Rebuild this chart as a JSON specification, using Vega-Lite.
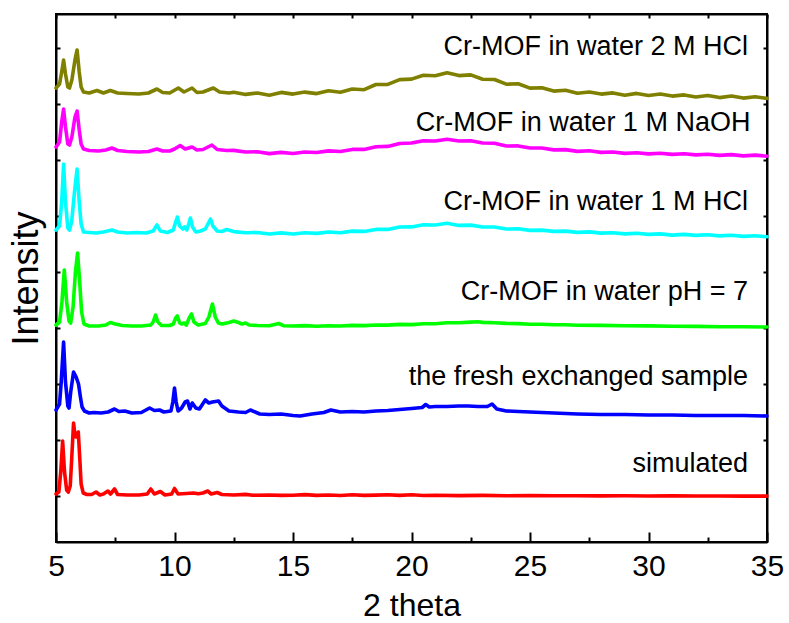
{
  "$schema": "https://vega.github.io/schema/vega-lite/v6.json",
  "width": 711,
  "height": 528,
  "autosize": {"type": "none"},
  "padding": {"left": 56, "top": 14, "right": 22, "bottom": 81},
  "background": "white",
  "config": {
    "font": "Liberation Sans",
    "view": {"stroke": "black", "strokeWidth": 2},
    "axis": {
      "grid": false,
      "domainColor": "black",
      "domainWidth": 2,
      "tickColor": "black",
      "tickWidth": 2,
      "labelColor": "black",
      "titleColor": "black",
      "titleFontWeight": "normal",
      "labelFont": "Liberation Sans",
      "titleFont": "Liberation Sans"
    }
  },
  "datasets": {
    "xrd": [
      {"sample": "simulated", "theta": 5.0, "intensity": 48},
      {"sample": "simulated", "theta": 5.12, "intensity": 50},
      {"sample": "simulated", "theta": 5.2, "intensity": 70},
      {"sample": "simulated", "theta": 5.28, "intensity": 101},
      {"sample": "simulated", "theta": 5.36, "intensity": 70},
      {"sample": "simulated", "theta": 5.45, "intensity": 52},
      {"sample": "simulated", "theta": 5.52, "intensity": 50},
      {"sample": "simulated", "theta": 5.6, "intensity": 56},
      {"sample": "simulated", "theta": 5.66, "intensity": 82},
      {"sample": "simulated", "theta": 5.74, "intensity": 119},
      {"sample": "simulated", "theta": 5.8, "intensity": 107},
      {"sample": "simulated", "theta": 5.84, "intensity": 105},
      {"sample": "simulated", "theta": 5.9, "intensity": 108},
      {"sample": "simulated", "theta": 5.94, "intensity": 110},
      {"sample": "simulated", "theta": 6.0, "intensity": 85},
      {"sample": "simulated", "theta": 6.06, "intensity": 58},
      {"sample": "simulated", "theta": 6.15, "intensity": 49},
      {"sample": "simulated", "theta": 6.3, "intensity": 47.5},
      {"sample": "simulated", "theta": 6.5, "intensity": 47.5},
      {"sample": "simulated", "theta": 6.69, "intensity": 50},
      {"sample": "simulated", "theta": 6.85, "intensity": 47},
      {"sample": "simulated", "theta": 7.0, "intensity": 48},
      {"sample": "simulated", "theta": 7.19, "intensity": 51},
      {"sample": "simulated", "theta": 7.3, "intensity": 48},
      {"sample": "simulated", "theta": 7.47, "intensity": 53},
      {"sample": "simulated", "theta": 7.6, "intensity": 47.5},
      {"sample": "simulated", "theta": 8.0, "intensity": 47},
      {"sample": "simulated", "theta": 8.5, "intensity": 47},
      {"sample": "simulated", "theta": 8.85, "intensity": 48},
      {"sample": "simulated", "theta": 9.0, "intensity": 53},
      {"sample": "simulated", "theta": 9.15, "intensity": 48},
      {"sample": "simulated", "theta": 9.4, "intensity": 50.5},
      {"sample": "simulated", "theta": 9.6, "intensity": 47},
      {"sample": "simulated", "theta": 9.88, "intensity": 48},
      {"sample": "simulated", "theta": 10.0, "intensity": 53.5},
      {"sample": "simulated", "theta": 10.15, "intensity": 48},
      {"sample": "simulated", "theta": 10.5, "intensity": 48.5},
      {"sample": "simulated", "theta": 10.8, "intensity": 49},
      {"sample": "simulated", "theta": 11.0, "intensity": 48.2},
      {"sample": "simulated", "theta": 11.2, "intensity": 49},
      {"sample": "simulated", "theta": 11.4, "intensity": 51},
      {"sample": "simulated", "theta": 11.55, "intensity": 48},
      {"sample": "simulated", "theta": 11.8, "intensity": 49.5},
      {"sample": "simulated", "theta": 12.0, "intensity": 47.5},
      {"sample": "simulated", "theta": 12.5, "intensity": 47},
      {"sample": "simulated", "theta": 13.0, "intensity": 47.6},
      {"sample": "simulated", "theta": 13.3, "intensity": 46.8},
      {"sample": "simulated", "theta": 14.0, "intensity": 47},
      {"sample": "simulated", "theta": 14.5, "intensity": 46.6},
      {"sample": "simulated", "theta": 15.0, "intensity": 46.8},
      {"sample": "simulated", "theta": 15.5, "intensity": 47.4},
      {"sample": "simulated", "theta": 16.0, "intensity": 46.6},
      {"sample": "simulated", "theta": 16.5, "intensity": 47},
      {"sample": "simulated", "theta": 17.0, "intensity": 46.5},
      {"sample": "simulated", "theta": 17.5, "intensity": 47.2},
      {"sample": "simulated", "theta": 18.0, "intensity": 46.6},
      {"sample": "simulated", "theta": 18.5, "intensity": 46.9},
      {"sample": "simulated", "theta": 19.0, "intensity": 47.3},
      {"sample": "simulated", "theta": 19.5, "intensity": 46.6},
      {"sample": "simulated", "theta": 20.0, "intensity": 47.2},
      {"sample": "simulated", "theta": 20.5, "intensity": 46.5},
      {"sample": "simulated", "theta": 21.0, "intensity": 46.8},
      {"sample": "simulated", "theta": 22.0, "intensity": 46.4},
      {"sample": "simulated", "theta": 23.0, "intensity": 46.6},
      {"sample": "simulated", "theta": 24.0, "intensity": 46.3},
      {"sample": "simulated", "theta": 25.0, "intensity": 46.4},
      {"sample": "simulated", "theta": 26.0, "intensity": 46.2},
      {"sample": "simulated", "theta": 27.0, "intensity": 46.3},
      {"sample": "simulated", "theta": 28.0, "intensity": 46.1},
      {"sample": "simulated", "theta": 29.0, "intensity": 46.2},
      {"sample": "simulated", "theta": 30.0, "intensity": 46},
      {"sample": "simulated", "theta": 31.0, "intensity": 46.1},
      {"sample": "simulated", "theta": 32.0, "intensity": 46},
      {"sample": "simulated", "theta": 33.0, "intensity": 46},
      {"sample": "simulated", "theta": 34.0, "intensity": 45.9},
      {"sample": "simulated", "theta": 35.0, "intensity": 45.9},

      {"sample": "fresh", "theta": 5.0, "intensity": 132},
      {"sample": "fresh", "theta": 5.15, "intensity": 138},
      {"sample": "fresh", "theta": 5.22, "intensity": 160},
      {"sample": "fresh", "theta": 5.32, "intensity": 200},
      {"sample": "fresh", "theta": 5.4, "intensity": 160},
      {"sample": "fresh", "theta": 5.5, "intensity": 136},
      {"sample": "fresh", "theta": 5.55, "intensity": 134},
      {"sample": "fresh", "theta": 5.62, "intensity": 150},
      {"sample": "fresh", "theta": 5.74, "intensity": 170},
      {"sample": "fresh", "theta": 5.85, "intensity": 165},
      {"sample": "fresh", "theta": 5.95, "intensity": 158},
      {"sample": "fresh", "theta": 6.03, "intensity": 145},
      {"sample": "fresh", "theta": 6.1, "intensity": 135},
      {"sample": "fresh", "theta": 6.2, "intensity": 131},
      {"sample": "fresh", "theta": 6.4, "intensity": 129},
      {"sample": "fresh", "theta": 6.6, "intensity": 129.5},
      {"sample": "fresh", "theta": 6.9, "intensity": 129},
      {"sample": "fresh", "theta": 7.2, "intensity": 130},
      {"sample": "fresh", "theta": 7.47, "intensity": 133},
      {"sample": "fresh", "theta": 7.65, "intensity": 130.5},
      {"sample": "fresh", "theta": 7.9, "intensity": 131},
      {"sample": "fresh", "theta": 8.2, "intensity": 129},
      {"sample": "fresh", "theta": 8.6, "intensity": 129.5},
      {"sample": "fresh", "theta": 8.95, "intensity": 134},
      {"sample": "fresh", "theta": 9.15, "intensity": 131.5},
      {"sample": "fresh", "theta": 9.37, "intensity": 132},
      {"sample": "fresh", "theta": 9.55, "intensity": 130},
      {"sample": "fresh", "theta": 9.85, "intensity": 131},
      {"sample": "fresh", "theta": 9.93, "intensity": 140},
      {"sample": "fresh", "theta": 10.0, "intensity": 154},
      {"sample": "fresh", "theta": 10.07, "intensity": 140},
      {"sample": "fresh", "theta": 10.15, "intensity": 131},
      {"sample": "fresh", "theta": 10.3, "intensity": 134},
      {"sample": "fresh", "theta": 10.45, "intensity": 140},
      {"sample": "fresh", "theta": 10.55, "intensity": 141},
      {"sample": "fresh", "theta": 10.65, "intensity": 133},
      {"sample": "fresh", "theta": 10.75, "intensity": 139},
      {"sample": "fresh", "theta": 10.9, "intensity": 134},
      {"sample": "fresh", "theta": 11.05, "intensity": 133},
      {"sample": "fresh", "theta": 11.3, "intensity": 142},
      {"sample": "fresh", "theta": 11.45, "intensity": 139},
      {"sample": "fresh", "theta": 11.6, "intensity": 140},
      {"sample": "fresh", "theta": 11.86, "intensity": 141},
      {"sample": "fresh", "theta": 12.0, "intensity": 136},
      {"sample": "fresh", "theta": 12.3, "intensity": 131},
      {"sample": "fresh", "theta": 12.7, "intensity": 130},
      {"sample": "fresh", "theta": 13.0, "intensity": 129.5},
      {"sample": "fresh", "theta": 13.2, "intensity": 132},
      {"sample": "fresh", "theta": 13.6, "intensity": 128},
      {"sample": "fresh", "theta": 14.0, "intensity": 127.5},
      {"sample": "fresh", "theta": 14.5, "intensity": 128},
      {"sample": "fresh", "theta": 15.0, "intensity": 126.5},
      {"sample": "fresh", "theta": 15.3, "intensity": 126},
      {"sample": "fresh", "theta": 15.8, "intensity": 128},
      {"sample": "fresh", "theta": 16.3, "intensity": 129.5},
      {"sample": "fresh", "theta": 16.6, "intensity": 132},
      {"sample": "fresh", "theta": 17.0, "intensity": 130},
      {"sample": "fresh", "theta": 17.5, "intensity": 130.5},
      {"sample": "fresh", "theta": 18.0, "intensity": 130},
      {"sample": "fresh", "theta": 18.5, "intensity": 131},
      {"sample": "fresh", "theta": 19.0, "intensity": 131.5},
      {"sample": "fresh", "theta": 19.5, "intensity": 132.5},
      {"sample": "fresh", "theta": 20.0, "intensity": 133.5},
      {"sample": "fresh", "theta": 20.45, "intensity": 134.5},
      {"sample": "fresh", "theta": 20.6, "intensity": 137.5},
      {"sample": "fresh", "theta": 20.75, "intensity": 135},
      {"sample": "fresh", "theta": 21.0, "intensity": 135.5},
      {"sample": "fresh", "theta": 21.5, "intensity": 135.5},
      {"sample": "fresh", "theta": 22.0, "intensity": 136},
      {"sample": "fresh", "theta": 22.4, "intensity": 136},
      {"sample": "fresh", "theta": 22.8, "intensity": 135.5},
      {"sample": "fresh", "theta": 23.2, "intensity": 135.5},
      {"sample": "fresh", "theta": 23.4, "intensity": 138},
      {"sample": "fresh", "theta": 23.6, "intensity": 133},
      {"sample": "fresh", "theta": 24.0, "intensity": 131},
      {"sample": "fresh", "theta": 24.5, "intensity": 130.5},
      {"sample": "fresh", "theta": 25.0, "intensity": 130},
      {"sample": "fresh", "theta": 25.5, "intensity": 129.5},
      {"sample": "fresh", "theta": 26.0, "intensity": 129},
      {"sample": "fresh", "theta": 26.5, "intensity": 128.5},
      {"sample": "fresh", "theta": 27.0, "intensity": 128},
      {"sample": "fresh", "theta": 28.0, "intensity": 127.5},
      {"sample": "fresh", "theta": 29.0, "intensity": 127.5},
      {"sample": "fresh", "theta": 30.0, "intensity": 127},
      {"sample": "fresh", "theta": 31.0, "intensity": 127},
      {"sample": "fresh", "theta": 32.0, "intensity": 126.5},
      {"sample": "fresh", "theta": 33.0, "intensity": 126.5},
      {"sample": "fresh", "theta": 34.0, "intensity": 126.5},
      {"sample": "fresh", "theta": 35.0, "intensity": 126},

      {"sample": "pH7", "theta": 5.0, "intensity": 217},
      {"sample": "pH7", "theta": 5.15, "intensity": 220},
      {"sample": "pH7", "theta": 5.25, "intensity": 240},
      {"sample": "pH7", "theta": 5.35, "intensity": 272},
      {"sample": "pH7", "theta": 5.45, "intensity": 240},
      {"sample": "pH7", "theta": 5.55, "intensity": 221},
      {"sample": "pH7", "theta": 5.62, "intensity": 219},
      {"sample": "pH7", "theta": 5.72, "intensity": 235},
      {"sample": "pH7", "theta": 5.82, "intensity": 270},
      {"sample": "pH7", "theta": 5.91, "intensity": 289},
      {"sample": "pH7", "theta": 6.0, "intensity": 260},
      {"sample": "pH7", "theta": 6.08, "intensity": 230},
      {"sample": "pH7", "theta": 6.18, "intensity": 218},
      {"sample": "pH7", "theta": 6.4, "intensity": 216},
      {"sample": "pH7", "theta": 6.8, "intensity": 216},
      {"sample": "pH7", "theta": 7.1, "intensity": 217},
      {"sample": "pH7", "theta": 7.29, "intensity": 219.5},
      {"sample": "pH7", "theta": 7.5, "intensity": 218},
      {"sample": "pH7", "theta": 7.8, "intensity": 216.5},
      {"sample": "pH7", "theta": 8.2, "intensity": 216},
      {"sample": "pH7", "theta": 8.6, "intensity": 216},
      {"sample": "pH7", "theta": 9.0, "intensity": 217},
      {"sample": "pH7", "theta": 9.1, "intensity": 220},
      {"sample": "pH7", "theta": 9.2, "intensity": 227},
      {"sample": "pH7", "theta": 9.3, "intensity": 220},
      {"sample": "pH7", "theta": 9.45, "intensity": 216.5},
      {"sample": "pH7", "theta": 9.8, "intensity": 216.5},
      {"sample": "pH7", "theta": 9.95, "intensity": 218},
      {"sample": "pH7", "theta": 10.05, "intensity": 224},
      {"sample": "pH7", "theta": 10.12, "intensity": 226},
      {"sample": "pH7", "theta": 10.22, "intensity": 219},
      {"sample": "pH7", "theta": 10.3, "intensity": 218},
      {"sample": "pH7", "theta": 10.4, "intensity": 219},
      {"sample": "pH7", "theta": 10.5, "intensity": 217},
      {"sample": "pH7", "theta": 10.62, "intensity": 224},
      {"sample": "pH7", "theta": 10.72, "intensity": 228},
      {"sample": "pH7", "theta": 10.82, "intensity": 220},
      {"sample": "pH7", "theta": 11.0, "intensity": 217},
      {"sample": "pH7", "theta": 11.3, "intensity": 218.5},
      {"sample": "pH7", "theta": 11.45, "intensity": 225},
      {"sample": "pH7", "theta": 11.6, "intensity": 238},
      {"sample": "pH7", "theta": 11.72, "intensity": 225},
      {"sample": "pH7", "theta": 11.85, "intensity": 219},
      {"sample": "pH7", "theta": 12.0, "intensity": 218},
      {"sample": "pH7", "theta": 12.3, "intensity": 219.5},
      {"sample": "pH7", "theta": 12.5, "intensity": 221},
      {"sample": "pH7", "theta": 12.7, "intensity": 219.5},
      {"sample": "pH7", "theta": 12.85, "intensity": 218},
      {"sample": "pH7", "theta": 13.0, "intensity": 219},
      {"sample": "pH7", "theta": 13.15, "intensity": 217},
      {"sample": "pH7", "theta": 13.5, "intensity": 216.5},
      {"sample": "pH7", "theta": 14.0, "intensity": 216.2},
      {"sample": "pH7", "theta": 14.4, "intensity": 218.5},
      {"sample": "pH7", "theta": 14.6, "intensity": 216.3},
      {"sample": "pH7", "theta": 15.0, "intensity": 216},
      {"sample": "pH7", "theta": 15.5, "intensity": 216.4},
      {"sample": "pH7", "theta": 16.0, "intensity": 215.7},
      {"sample": "pH7", "theta": 16.5, "intensity": 216.2},
      {"sample": "pH7", "theta": 17.0, "intensity": 216},
      {"sample": "pH7", "theta": 17.5, "intensity": 216.6},
      {"sample": "pH7", "theta": 18.0, "intensity": 216.4},
      {"sample": "pH7", "theta": 18.5, "intensity": 217},
      {"sample": "pH7", "theta": 19.0, "intensity": 216.9},
      {"sample": "pH7", "theta": 19.5, "intensity": 217.6},
      {"sample": "pH7", "theta": 20.0, "intensity": 217.4},
      {"sample": "pH7", "theta": 20.5, "intensity": 218.3},
      {"sample": "pH7", "theta": 21.0, "intensity": 218.3},
      {"sample": "pH7", "theta": 21.5, "intensity": 219.2},
      {"sample": "pH7", "theta": 22.0, "intensity": 219.2},
      {"sample": "pH7", "theta": 22.5, "intensity": 219.9},
      {"sample": "pH7", "theta": 22.8, "intensity": 220.3},
      {"sample": "pH7", "theta": 23.0, "intensity": 219.6},
      {"sample": "pH7", "theta": 23.5, "intensity": 219.3},
      {"sample": "pH7", "theta": 24.0, "intensity": 218.6},
      {"sample": "pH7", "theta": 24.5, "intensity": 218.4},
      {"sample": "pH7", "theta": 25.0, "intensity": 217.8},
      {"sample": "pH7", "theta": 25.5, "intensity": 217.8},
      {"sample": "pH7", "theta": 26.0, "intensity": 217.2},
      {"sample": "pH7", "theta": 26.5, "intensity": 217.3},
      {"sample": "pH7", "theta": 27.0, "intensity": 216.8},
      {"sample": "pH7", "theta": 28.0, "intensity": 216.6},
      {"sample": "pH7", "theta": 29.0, "intensity": 216.2},
      {"sample": "pH7", "theta": 30.0, "intensity": 216.1},
      {"sample": "pH7", "theta": 31.0, "intensity": 215.7},
      {"sample": "pH7", "theta": 32.0, "intensity": 215.6},
      {"sample": "pH7", "theta": 33.0, "intensity": 215.3},
      {"sample": "pH7", "theta": 34.0, "intensity": 215.2},
      {"sample": "pH7", "theta": 35.0, "intensity": 215},

      {"sample": "HCl1", "theta": 5.0, "intensity": 312},
      {"sample": "HCl1", "theta": 5.15, "intensity": 316},
      {"sample": "HCl1", "theta": 5.24, "intensity": 340},
      {"sample": "HCl1", "theta": 5.32, "intensity": 378},
      {"sample": "HCl1", "theta": 5.4, "intensity": 340},
      {"sample": "HCl1", "theta": 5.5, "intensity": 314},
      {"sample": "HCl1", "theta": 5.57, "intensity": 312},
      {"sample": "HCl1", "theta": 5.66, "intensity": 320},
      {"sample": "HCl1", "theta": 5.78, "intensity": 350},
      {"sample": "HCl1", "theta": 5.89, "intensity": 373},
      {"sample": "HCl1", "theta": 5.98, "intensity": 340},
      {"sample": "HCl1", "theta": 6.06, "intensity": 318},
      {"sample": "HCl1", "theta": 6.16, "intensity": 310},
      {"sample": "HCl1", "theta": 6.4, "intensity": 309.5},
      {"sample": "HCl1", "theta": 6.7, "intensity": 309},
      {"sample": "HCl1", "theta": 7.0, "intensity": 310},
      {"sample": "HCl1", "theta": 7.36, "intensity": 312},
      {"sample": "HCl1", "theta": 7.6, "intensity": 310},
      {"sample": "HCl1", "theta": 8.0, "intensity": 309},
      {"sample": "HCl1", "theta": 8.4, "intensity": 309.5},
      {"sample": "HCl1", "theta": 8.8, "intensity": 309},
      {"sample": "HCl1", "theta": 9.1, "intensity": 311},
      {"sample": "HCl1", "theta": 9.26, "intensity": 317},
      {"sample": "HCl1", "theta": 9.4, "intensity": 311},
      {"sample": "HCl1", "theta": 9.7, "intensity": 309.5},
      {"sample": "HCl1", "theta": 9.95, "intensity": 312},
      {"sample": "HCl1", "theta": 10.05, "intensity": 320},
      {"sample": "HCl1", "theta": 10.12, "intensity": 325},
      {"sample": "HCl1", "theta": 10.22, "intensity": 316},
      {"sample": "HCl1", "theta": 10.35, "intensity": 313},
      {"sample": "HCl1", "theta": 10.42, "intensity": 315},
      {"sample": "HCl1", "theta": 10.52, "intensity": 312},
      {"sample": "HCl1", "theta": 10.6, "intensity": 318},
      {"sample": "HCl1", "theta": 10.67, "intensity": 324},
      {"sample": "HCl1", "theta": 10.76, "intensity": 315},
      {"sample": "HCl1", "theta": 10.9, "intensity": 310},
      {"sample": "HCl1", "theta": 11.1, "intensity": 311},
      {"sample": "HCl1", "theta": 11.3, "intensity": 313},
      {"sample": "HCl1", "theta": 11.52, "intensity": 323},
      {"sample": "HCl1", "theta": 11.62, "intensity": 316},
      {"sample": "HCl1", "theta": 11.8, "intensity": 311},
      {"sample": "HCl1", "theta": 12.0, "intensity": 310.5},
      {"sample": "HCl1", "theta": 12.2, "intensity": 312.5},
      {"sample": "HCl1", "theta": 12.5, "intensity": 310.4},
      {"sample": "HCl1", "theta": 13.0, "intensity": 309.2},
      {"sample": "HCl1", "theta": 13.5, "intensity": 309.5},
      {"sample": "HCl1", "theta": 14.0, "intensity": 308},
      {"sample": "HCl1", "theta": 14.5, "intensity": 309.1},
      {"sample": "HCl1", "theta": 15.0, "intensity": 308},
      {"sample": "HCl1", "theta": 15.5, "intensity": 309.3},
      {"sample": "HCl1", "theta": 16.0, "intensity": 308.6},
      {"sample": "HCl1", "theta": 16.5, "intensity": 310},
      {"sample": "HCl1", "theta": 17.0, "intensity": 309.3},
      {"sample": "HCl1", "theta": 17.5, "intensity": 310.9},
      {"sample": "HCl1", "theta": 18.0, "intensity": 310.6},
      {"sample": "HCl1", "theta": 18.5, "intensity": 312.6},
      {"sample": "HCl1", "theta": 19.0, "intensity": 312.6},
      {"sample": "HCl1", "theta": 19.5, "intensity": 315},
      {"sample": "HCl1", "theta": 20.0, "intensity": 315.1},
      {"sample": "HCl1", "theta": 20.5, "intensity": 317.2},
      {"sample": "HCl1", "theta": 21.0, "intensity": 317},
      {"sample": "HCl1", "theta": 21.5, "intensity": 318.7},
      {"sample": "HCl1", "theta": 22.0, "intensity": 316.6},
      {"sample": "HCl1", "theta": 22.5, "intensity": 316.9},
      {"sample": "HCl1", "theta": 23.0, "intensity": 315},
      {"sample": "HCl1", "theta": 23.5, "intensity": 315},
      {"sample": "HCl1", "theta": 24.0, "intensity": 313},
      {"sample": "HCl1", "theta": 24.5, "intensity": 313.2},
      {"sample": "HCl1", "theta": 25.0, "intensity": 311.6},
      {"sample": "HCl1", "theta": 25.5, "intensity": 311.9},
      {"sample": "HCl1", "theta": 26.0, "intensity": 310.6},
      {"sample": "HCl1", "theta": 26.5, "intensity": 310.9},
      {"sample": "HCl1", "theta": 27.0, "intensity": 309.6},
      {"sample": "HCl1", "theta": 27.5, "intensity": 310.1},
      {"sample": "HCl1", "theta": 28.0, "intensity": 308.9},
      {"sample": "HCl1", "theta": 28.5, "intensity": 309.3},
      {"sample": "HCl1", "theta": 29.0, "intensity": 308.1},
      {"sample": "HCl1", "theta": 29.5, "intensity": 308.7},
      {"sample": "HCl1", "theta": 30.0, "intensity": 307.6},
      {"sample": "HCl1", "theta": 30.5, "intensity": 308.1},
      {"sample": "HCl1", "theta": 31.0, "intensity": 306.9},
      {"sample": "HCl1", "theta": 31.5, "intensity": 307.6},
      {"sample": "HCl1", "theta": 32.0, "intensity": 306.6},
      {"sample": "HCl1", "theta": 32.5, "intensity": 307.2},
      {"sample": "HCl1", "theta": 33.0, "intensity": 306.1},
      {"sample": "HCl1", "theta": 33.5, "intensity": 306.7},
      {"sample": "HCl1", "theta": 34.0, "intensity": 305.6},
      {"sample": "HCl1", "theta": 34.5, "intensity": 306.2},
      {"sample": "HCl1", "theta": 35.0, "intensity": 305.3},

      {"sample": "NaOH1", "theta": 5.0, "intensity": 395},
      {"sample": "NaOH1", "theta": 5.15, "intensity": 400},
      {"sample": "NaOH1", "theta": 5.24, "intensity": 420},
      {"sample": "NaOH1", "theta": 5.32, "intensity": 433},
      {"sample": "NaOH1", "theta": 5.4, "intensity": 415},
      {"sample": "NaOH1", "theta": 5.5, "intensity": 398},
      {"sample": "NaOH1", "theta": 5.57, "intensity": 397},
      {"sample": "NaOH1", "theta": 5.67, "intensity": 405},
      {"sample": "NaOH1", "theta": 5.8, "intensity": 425},
      {"sample": "NaOH1", "theta": 5.89, "intensity": 431},
      {"sample": "NaOH1", "theta": 5.98, "intensity": 412},
      {"sample": "NaOH1", "theta": 6.06, "intensity": 398},
      {"sample": "NaOH1", "theta": 6.16, "intensity": 393},
      {"sample": "NaOH1", "theta": 6.4, "intensity": 391.5},
      {"sample": "NaOH1", "theta": 6.8, "intensity": 391},
      {"sample": "NaOH1", "theta": 7.1, "intensity": 392},
      {"sample": "NaOH1", "theta": 7.36, "intensity": 394},
      {"sample": "NaOH1", "theta": 7.6, "intensity": 391.5},
      {"sample": "NaOH1", "theta": 8.0, "intensity": 390.5},
      {"sample": "NaOH1", "theta": 8.5, "intensity": 390},
      {"sample": "NaOH1", "theta": 8.9, "intensity": 390.5},
      {"sample": "NaOH1", "theta": 9.26, "intensity": 393},
      {"sample": "NaOH1", "theta": 9.5, "intensity": 391},
      {"sample": "NaOH1", "theta": 9.8, "intensity": 391},
      {"sample": "NaOH1", "theta": 10.0, "intensity": 393},
      {"sample": "NaOH1", "theta": 10.24, "intensity": 396.5},
      {"sample": "NaOH1", "theta": 10.45, "intensity": 393},
      {"sample": "NaOH1", "theta": 10.74, "intensity": 395},
      {"sample": "NaOH1", "theta": 10.95, "intensity": 392},
      {"sample": "NaOH1", "theta": 11.2, "intensity": 392.5},
      {"sample": "NaOH1", "theta": 11.58, "intensity": 397},
      {"sample": "NaOH1", "theta": 11.8, "intensity": 392.5},
      {"sample": "NaOH1", "theta": 12.2, "intensity": 391.5},
      {"sample": "NaOH1", "theta": 12.5, "intensity": 391.6},
      {"sample": "NaOH1", "theta": 13.0, "intensity": 390},
      {"sample": "NaOH1", "theta": 13.5, "intensity": 390.2},
      {"sample": "NaOH1", "theta": 14.0, "intensity": 388.4},
      {"sample": "NaOH1", "theta": 14.5, "intensity": 389.6},
      {"sample": "NaOH1", "theta": 15.0, "intensity": 388.5},
      {"sample": "NaOH1", "theta": 15.5, "intensity": 390},
      {"sample": "NaOH1", "theta": 16.0, "intensity": 389.5},
      {"sample": "NaOH1", "theta": 16.5, "intensity": 391.1},
      {"sample": "NaOH1", "theta": 17.0, "intensity": 390.5},
      {"sample": "NaOH1", "theta": 17.5, "intensity": 392.6},
      {"sample": "NaOH1", "theta": 18.0, "intensity": 392.6},
      {"sample": "NaOH1", "theta": 18.5, "intensity": 395.3},
      {"sample": "NaOH1", "theta": 19.0, "intensity": 395.6},
      {"sample": "NaOH1", "theta": 19.5, "intensity": 398.5},
      {"sample": "NaOH1", "theta": 20.0, "intensity": 399},
      {"sample": "NaOH1", "theta": 20.5, "intensity": 401.3},
      {"sample": "NaOH1", "theta": 21.0, "intensity": 401},
      {"sample": "NaOH1", "theta": 21.5, "intensity": 402.8},
      {"sample": "NaOH1", "theta": 22.0, "intensity": 401},
      {"sample": "NaOH1", "theta": 22.5, "intensity": 401.2},
      {"sample": "NaOH1", "theta": 23.0, "intensity": 399},
      {"sample": "NaOH1", "theta": 23.5, "intensity": 398.7},
      {"sample": "NaOH1", "theta": 24.0, "intensity": 396},
      {"sample": "NaOH1", "theta": 24.5, "intensity": 396.1},
      {"sample": "NaOH1", "theta": 25.0, "intensity": 394},
      {"sample": "NaOH1", "theta": 25.5, "intensity": 394},
      {"sample": "NaOH1", "theta": 26.0, "intensity": 392.1},
      {"sample": "NaOH1", "theta": 26.5, "intensity": 392.4},
      {"sample": "NaOH1", "theta": 27.0, "intensity": 390.6},
      {"sample": "NaOH1", "theta": 27.5, "intensity": 391.2},
      {"sample": "NaOH1", "theta": 28.0, "intensity": 389.6},
      {"sample": "NaOH1", "theta": 28.5, "intensity": 390},
      {"sample": "NaOH1", "theta": 29.0, "intensity": 388.6},
      {"sample": "NaOH1", "theta": 29.5, "intensity": 389.3},
      {"sample": "NaOH1", "theta": 30.0, "intensity": 388.1},
      {"sample": "NaOH1", "theta": 30.5, "intensity": 388.8},
      {"sample": "NaOH1", "theta": 31.0, "intensity": 387.6},
      {"sample": "NaOH1", "theta": 31.5, "intensity": 388.3},
      {"sample": "NaOH1", "theta": 32.0, "intensity": 387.1},
      {"sample": "NaOH1", "theta": 32.5, "intensity": 387.8},
      {"sample": "NaOH1", "theta": 33.0, "intensity": 386.6},
      {"sample": "NaOH1", "theta": 33.5, "intensity": 387.4},
      {"sample": "NaOH1", "theta": 34.0, "intensity": 386.1},
      {"sample": "NaOH1", "theta": 34.5, "intensity": 386.9},
      {"sample": "NaOH1", "theta": 35.0, "intensity": 385.8},

      {"sample": "HCl2", "theta": 5.0, "intensity": 454},
      {"sample": "HCl2", "theta": 5.15, "intensity": 458},
      {"sample": "HCl2", "theta": 5.24, "intensity": 470},
      {"sample": "HCl2", "theta": 5.32, "intensity": 482},
      {"sample": "HCl2", "theta": 5.4, "intensity": 468},
      {"sample": "HCl2", "theta": 5.5, "intensity": 455},
      {"sample": "HCl2", "theta": 5.57, "intensity": 454},
      {"sample": "HCl2", "theta": 5.67, "intensity": 462},
      {"sample": "HCl2", "theta": 5.8, "intensity": 482},
      {"sample": "HCl2", "theta": 5.89, "intensity": 492},
      {"sample": "HCl2", "theta": 5.98, "intensity": 470},
      {"sample": "HCl2", "theta": 6.06, "intensity": 455},
      {"sample": "HCl2", "theta": 6.16, "intensity": 450},
      {"sample": "HCl2", "theta": 6.4, "intensity": 449},
      {"sample": "HCl2", "theta": 6.73, "intensity": 451.5},
      {"sample": "HCl2", "theta": 7.0, "intensity": 449},
      {"sample": "HCl2", "theta": 7.29, "intensity": 451.5},
      {"sample": "HCl2", "theta": 7.6, "intensity": 449},
      {"sample": "HCl2", "theta": 8.0, "intensity": 448.5},
      {"sample": "HCl2", "theta": 8.5, "intensity": 448},
      {"sample": "HCl2", "theta": 8.9, "intensity": 449},
      {"sample": "HCl2", "theta": 9.26, "intensity": 453},
      {"sample": "HCl2", "theta": 9.5, "intensity": 449.5},
      {"sample": "HCl2", "theta": 9.8, "intensity": 449},
      {"sample": "HCl2", "theta": 10.16, "intensity": 454},
      {"sample": "HCl2", "theta": 10.4, "intensity": 450},
      {"sample": "HCl2", "theta": 10.74, "intensity": 454},
      {"sample": "HCl2", "theta": 10.95, "intensity": 449.5},
      {"sample": "HCl2", "theta": 11.2, "intensity": 450},
      {"sample": "HCl2", "theta": 11.64, "intensity": 454},
      {"sample": "HCl2", "theta": 11.9, "intensity": 450},
      {"sample": "HCl2", "theta": 12.3, "intensity": 449},
      {"sample": "HCl2", "theta": 12.5, "intensity": 449.8},
      {"sample": "HCl2", "theta": 13.0, "intensity": 447.6},
      {"sample": "HCl2", "theta": 13.5, "intensity": 449},
      {"sample": "HCl2", "theta": 14.0, "intensity": 446.8},
      {"sample": "HCl2", "theta": 14.5, "intensity": 449.6},
      {"sample": "HCl2", "theta": 15.0, "intensity": 447.9},
      {"sample": "HCl2", "theta": 15.5, "intensity": 449.9},
      {"sample": "HCl2", "theta": 16.0, "intensity": 448.4},
      {"sample": "HCl2", "theta": 16.5, "intensity": 451.2},
      {"sample": "HCl2", "theta": 17.0, "intensity": 449.8},
      {"sample": "HCl2", "theta": 17.5, "intensity": 453},
      {"sample": "HCl2", "theta": 18.0, "intensity": 452.3},
      {"sample": "HCl2", "theta": 18.5, "intensity": 457.5},
      {"sample": "HCl2", "theta": 19.0, "intensity": 457.6},
      {"sample": "HCl2", "theta": 19.5, "intensity": 462.4},
      {"sample": "HCl2", "theta": 20.0, "intensity": 462.9},
      {"sample": "HCl2", "theta": 20.5, "intensity": 466.8},
      {"sample": "HCl2", "theta": 21.0, "intensity": 466.2},
      {"sample": "HCl2", "theta": 21.5, "intensity": 469.3},
      {"sample": "HCl2", "theta": 22.0, "intensity": 466.4},
      {"sample": "HCl2", "theta": 22.5, "intensity": 467.1},
      {"sample": "HCl2", "theta": 23.0, "intensity": 462.7},
      {"sample": "HCl2", "theta": 23.5, "intensity": 462.5},
      {"sample": "HCl2", "theta": 24.0, "intensity": 457.8},
      {"sample": "HCl2", "theta": 24.5, "intensity": 458.2},
      {"sample": "HCl2", "theta": 25.0, "intensity": 453.9},
      {"sample": "HCl2", "theta": 25.5, "intensity": 454.2},
      {"sample": "HCl2", "theta": 26.0, "intensity": 450.9},
      {"sample": "HCl2", "theta": 26.5, "intensity": 451.8},
      {"sample": "HCl2", "theta": 27.0, "intensity": 448.8},
      {"sample": "HCl2", "theta": 27.5, "intensity": 450},
      {"sample": "HCl2", "theta": 28.0, "intensity": 447.9},
      {"sample": "HCl2", "theta": 28.5, "intensity": 449.1},
      {"sample": "HCl2", "theta": 29.0, "intensity": 446.8},
      {"sample": "HCl2", "theta": 29.5, "intensity": 448.6},
      {"sample": "HCl2", "theta": 30.0, "intensity": 446.5},
      {"sample": "HCl2", "theta": 30.5, "intensity": 448},
      {"sample": "HCl2", "theta": 31.0, "intensity": 445.9},
      {"sample": "HCl2", "theta": 31.5, "intensity": 447.1},
      {"sample": "HCl2", "theta": 32.0, "intensity": 445},
      {"sample": "HCl2", "theta": 32.5, "intensity": 446.5},
      {"sample": "HCl2", "theta": 33.0, "intensity": 444.4},
      {"sample": "HCl2", "theta": 33.5, "intensity": 446},
      {"sample": "HCl2", "theta": 34.0, "intensity": 443.9},
      {"sample": "HCl2", "theta": 34.5, "intensity": 445.2},
      {"sample": "HCl2", "theta": 35.0, "intensity": 443.6}
    ],
    "labels": [
      {"label": "Cr-MOF in water 2 M HCl", "theta": 34.2, "intensity": 487},
      {"label": "Cr-MOF in water 1 M NaOH", "theta": 34.3, "intensity": 411},
      {"label": "Cr-MOF in water 1 M HCl", "theta": 34.2, "intensity": 332},
      {"label": "Cr-MOF in water pH = 7", "theta": 34.2, "intensity": 242},
      {"label": "the fresh exchanged sample", "theta": 34.2, "intensity": 157},
      {"label": "simulated", "theta": 34.2, "intensity": 70}
    ]
  },
  "layer": [
    {
      "data": {"name": "xrd"},
      "mark": {"type": "line", "strokeWidth": 3.6, "strokeJoin": "round", "strokeCap": "round"},
      "encoding": {
        "x": {
          "field": "theta",
          "type": "quantitative",
          "scale": {"domain": [5, 35], "nice": false, "zero": false},
          "axis": {
            "orient": "bottom",
            "values": [5, 7.5, 10, 12.5, 15, 17.5, 20, 22.5, 25, 27.5, 30, 32.5, 35],
            "tickSize": {"condition": {"test": "datum.value % 5 === 0", "value": -10}, "value": -5},
            "labelExpr": "datum.value % 5 === 0 ? datum.label : ''",
            "labelFontSize": 30,
            "labelPadding": 19,
            "labelFlush": false,
            "labelOverlap": false,
            "title": "2 theta",
            "titleFontSize": 32,
            "titlePadding": 4
          }
        },
        "y": {
          "field": "intensity",
          "type": "quantitative",
          "scale": {"domain": [0, 528], "nice": false, "zero": false},
          "axis": {
            "orient": "left",
            "values": [46, 102, 158, 214, 270, 326, 382, 438, 494],
            "tickSize": -4,
            "labels": false,
            "title": "Intensity",
            "titleFontSize": 36,
            "titlePadding": 10
          }
        },
        "color": {
          "field": "sample",
          "type": "nominal",
          "scale": {
            "domain": ["simulated", "fresh", "pH7", "HCl1", "NaOH1", "HCl2"],
            "range": ["#FF0000", "#0000FF", "#00FF00", "#00FFFF", "#FF00FF", "#808000"]
          },
          "legend": null
        }
      }
    },
    {
      "data": {"name": "labels"},
      "mark": {"type": "text", "align": "right", "baseline": "alphabetic", "fontSize": 27, "font": "Liberation Sans", "color": "black"},
      "encoding": {
        "x": {
          "field": "theta",
          "type": "quantitative",
          "axis": {
            "orient": "top",
            "values": [5, 7.5, 10, 12.5, 15, 17.5, 20, 22.5, 25, 27.5, 30, 32.5, 35],
            "tickSize": -4,
            "labels": false,
            "title": null
          }
        },
        "y": {
          "field": "intensity",
          "type": "quantitative",
          "axis": {
            "orient": "right",
            "values": [46, 102, 158, 214, 270, 326, 382, 438, 494],
            "tickSize": -4,
            "labels": false,
            "title": null
          }
        },
        "text": {"field": "label"}
      }
    }
  ],
  "resolve": {"axis": {"x": "independent", "y": "independent"}}
}
